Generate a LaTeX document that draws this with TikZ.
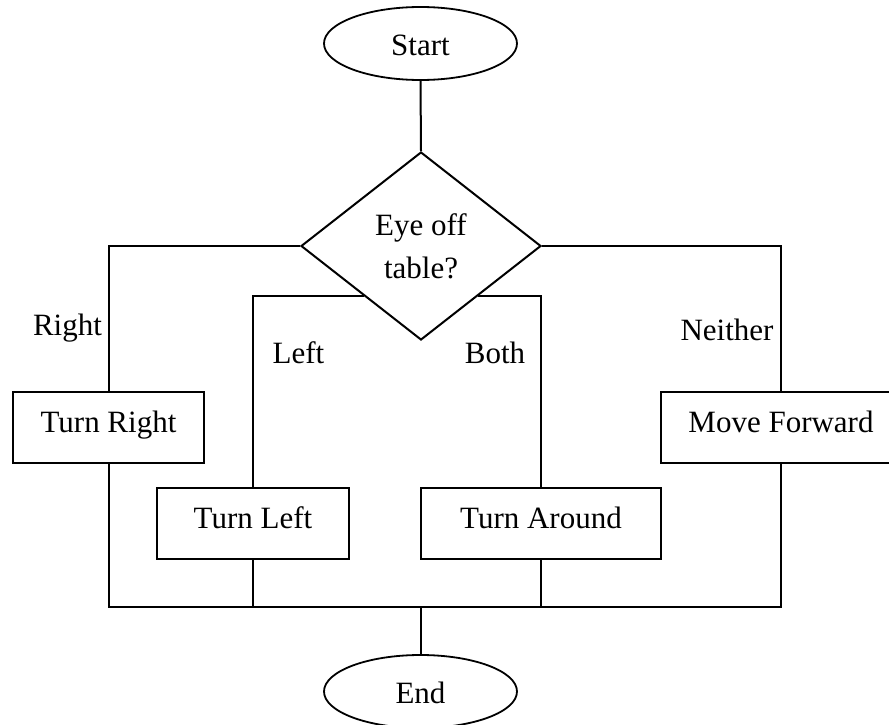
\documentclass[tikz,border=0pt]{standalone}
\usepackage{fontspec}
\setmainfont{Liberation Serif}
\usetikzlibrary{shapes.geometric,calc}
\begin{document}
\begin{tikzpicture}[x=1pt,y=-1pt,
  line width=2pt,
  every node/.style={font=\fontsize{31}{43}\selectfont},
  terminal/.style={draw,ellipse,line width=1.8pt,minimum width=193pt,minimum height=73pt,inner sep=0pt,text height=24pt,text depth=0pt},
  action/.style={draw,rectangle,minimum height=71pt,inner sep=0pt,text height=20pt,text depth=10pt},
  decision/.style={draw,diamond,minimum width=240pt,minimum height=188pt,inner sep=0pt,align=center},
  branch/.style={inner sep=0pt}
]
% page frame
\path[use as bounding box,fill=white] (0,0) rectangle (889,725);

% terminals and decision
\node[terminal] (start) at (420.5,43.5) {Start};
\node[decision] (dec) at (421,246) {Eye off\\table?};
\node[terminal] (stop) at (420.5,691.5) {End};

% actions
\node[action,minimum width=191pt] (tr) at (108.5,427.5) {Turn Right};
\node[action,minimum width=240pt] (mf) at (781,427.5) {Move Forward};
\node[action,minimum width=192pt] (tl) at (253,523.5) {Turn Left};
\node[action,minimum width=240pt] (ta) at (541,523.5) {Turn Around};

% branch labels
\node[branch] (lright) at (67.5,328) {Right};
\node[branch] (lneither) at (727,330) {Neither};
\node[branch] (lleft) at (298.5,353) {Left};
\node[branch] (lboth) at (495,353) {Both};

% join points on the collecting line
\coordinate (joinL) at (108.5,607);
\coordinate (joinR) at (781,607);

% connectors
\draw (start.south) -- (dec.north);
\draw (dec.west) -| (tr.north);
\draw (dec.east) -| (mf.north);
\draw ($(dec.west)!0.53!(dec.south)$) -| (tl.north);
\draw ($(dec.east)!0.53!(dec.south)$) -| (ta.north);
\draw (tr.south) -- (joinL) -- (joinR) -- (mf.south);
\draw (tl.south) -- (tl.south |- joinL);
\draw (ta.south) -- (ta.south |- joinL);
\draw (stop.north |- joinL) -- (stop.north);
\end{tikzpicture}
\end{document}
